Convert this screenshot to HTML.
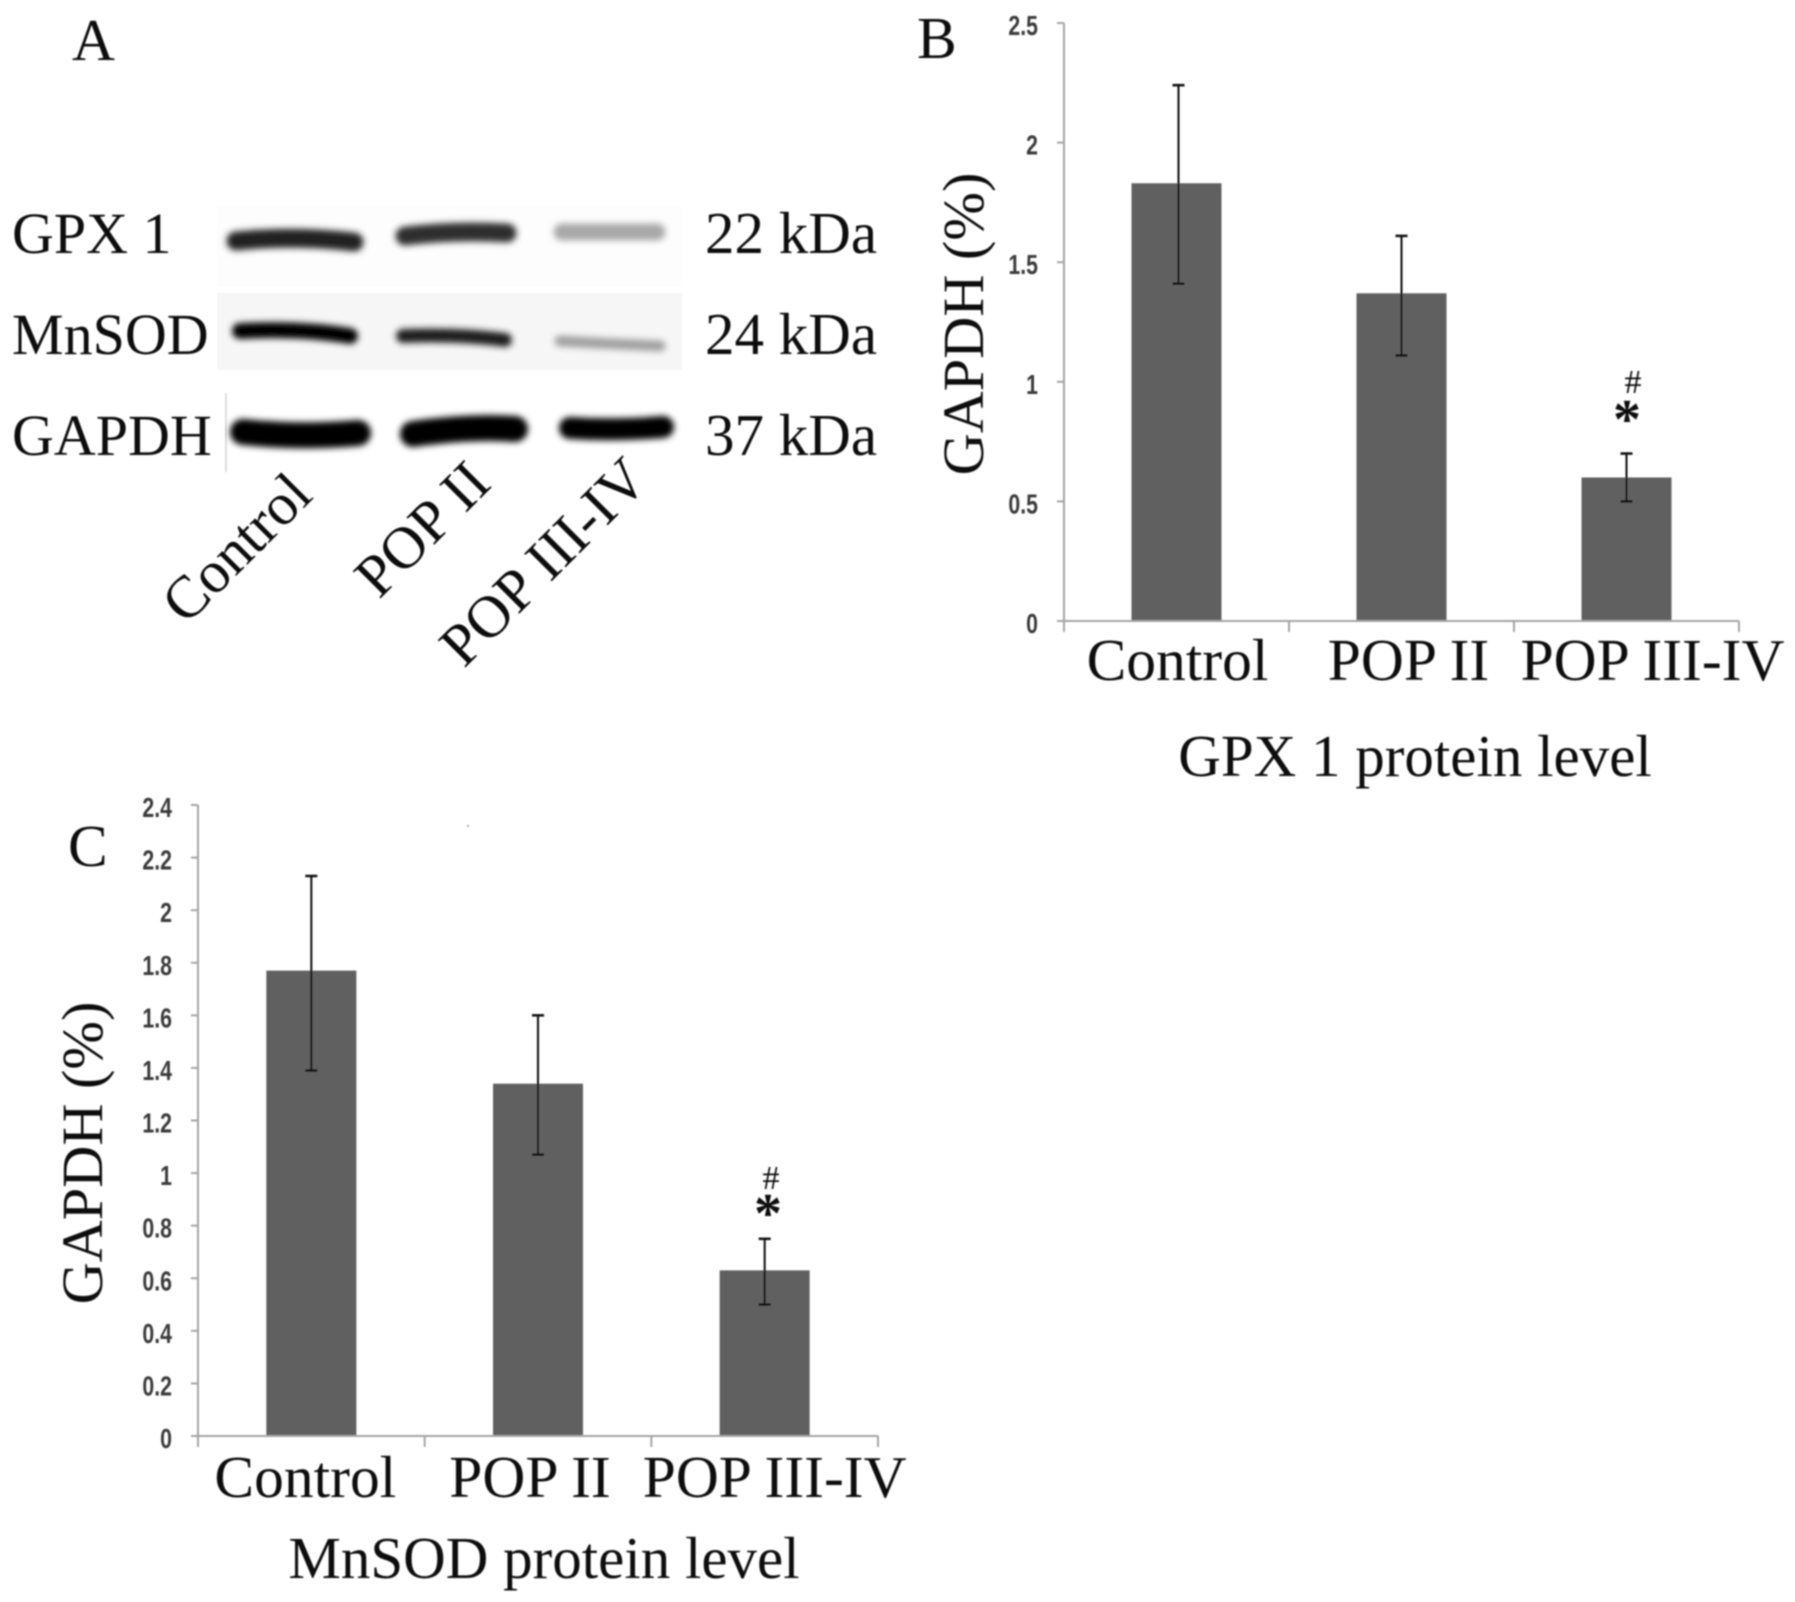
<!DOCTYPE html>
<html lang="en">
<head>
<meta charset="utf-8">
<title>GPX 1 and MnSOD protein levels</title>
<style>
html,body{margin:0;padding:0;background:#fff;}
svg{display:block;}
text{font-family:"Liberation Serif",serif;fill:#111;}
.big{font-size:59.5px;}
.row{font-size:58px;}
.title{font-size:59px;}
.ytitle{font-size:58.3px;}
.tick{font-family:"Liberation Sans",sans-serif;font-size:28px;font-weight:bold;fill:#3a3a3a;}
</style>
</head>
<body>
<svg id="figure" xmlns="http://www.w3.org/2000/svg" width="1795" height="1602" viewBox="0 0 1795 1602">
  <defs>
    <filter id="soft" x="-5%" y="-5%" width="110%" height="110%"><feGaussianBlur stdDeviation="0.7"/></filter>
    <filter id="bandblur" x="-20%" y="-100%" width="140%" height="300%"><feGaussianBlur stdDeviation="3.2"/></filter>
  </defs>
  <g filter="url(#soft)">
    <text class="big" x="72" y="60">A</text>
    <text class="big" x="917" y="58">B</text>
    <text class="big" x="68" y="866">C</text>
    <circle cx="468" cy="826" r="1" fill="#999"/>

    <g>
      <rect x="217" y="205" width="465" height="82" fill="#fdfdfd"/>
      <rect x="217" y="293" width="465" height="77" fill="#f6f6f6"/>
      <rect x="225" y="393" width="2" height="79" fill="#dedede"/>
      <g filter="url(#bandblur)" fill="none" stroke-linecap="round">
        <path d="M236 241 Q295 235 354 242" stroke="#222" stroke-width="19"/>
        <path d="M405 236 Q455 230 507 233" stroke="#2f2f2f" stroke-width="19"/>
        <path d="M562 232 L657 232" stroke="#a8a8a8" stroke-width="17"/>
        <path d="M240 331 Q300 328 350 336" stroke="#000" stroke-width="16"/>
        <path d="M403 336 Q460 334 505 340" stroke="#1c1c1c" stroke-width="14"/>
        <path d="M560 341 Q610 344 660 346" stroke="#a0a0a0" stroke-width="11"/>
        <path d="M243 432 Q300 438 358 433" stroke="#000" stroke-width="26"/>
        <path d="M413 434 Q470 426 515 429" stroke="#000" stroke-width="26"/>
        <path d="M570 428 Q615 431 663 427" stroke="#000" stroke-width="22"/>
      </g>
      <text class="row" x="12" y="253">GPX 1</text>
      <text class="row" x="12" y="354">MnSOD</text>
      <text class="row" x="12" y="455">GAPDH</text>
      <text class="title" x="705" y="253">22 kDa</text>
      <text class="title" x="705" y="354">24 kDa</text>
      <text class="title" x="705" y="455">37 kDa</text>
      <text class="big" transform="translate(186 626) rotate(-45)">Control</text>
      <text class="big" transform="translate(379 600) rotate(-45)">POP II</text>
      <text class="big" transform="translate(464 669) rotate(-45)">POP III-IV</text>
    </g>

    <g id="chart-b"></g>
    <g id="chart-c"></g>

    <text class="title" text-anchor="middle" x="1415" y="776">GPX 1 protein level</text>
    <text class="ytitle" text-anchor="middle" transform="translate(983 324) rotate(-90)">GAPDH (%)</text>
    <text class="title" text-anchor="middle" x="544" y="1578">MnSOD protein level</text>
    <text class="ytitle" text-anchor="middle" transform="translate(102 1153) rotate(-90)">GAPDH (%)</text>

    <text x="1633" y="393" text-anchor="middle" font-size="34" fill="#333">#</text>
    <text x="1627" y="438" text-anchor="middle" font-size="56" font-weight="bold">*</text>
    <text x="771" y="1189" text-anchor="middle" font-size="34" fill="#333">#</text>
    <text x="768" y="1232" text-anchor="middle" font-size="56" font-weight="bold">*</text>
  </g>
</svg>
<script>
const bCategories = ['Control', 'POP II', 'POP III-IV'];
const bValues = [1.83, 1.37, 0.6];
const bErrorHigh = [2.24, 1.61, 0.7];
const bErrorLow = [1.41, 1.11, 0.5];
const bTickLabels = ['0', '0.5', '1', '1.5', '2', '2.5'];

const cCategories = ['Control', 'POP II', 'POP III-IV'];
const cValues = [1.77, 1.34, 0.63];
const cErrorHigh = [2.13, 1.6, 0.75];
const cErrorLow = [1.39, 1.07, 0.5];
const cTickLabels = ['0', '0.2', '0.4', '0.6', '0.8', '1', '1.2', '1.4', '1.6', '1.8', '2', '2.2', '2.4'];

const SVG_NS = 'http://www.w3.org/2000/svg';

function make(parent, tag, props) {
  const el = document.createElementNS(SVG_NS, tag);
  Object.keys(props).forEach(function (k) { el.setAttribute(k, props[k]); });
  parent.appendChild(el);
  return el;
}

function drawChart(cfg) {
  const root = document.getElementById(cfg.id);
  const tickNums = cfg.ticks.map(Number);
  const yMax = Math.max.apply(null, tickNums);
  const yScale = function (v) { return cfg.bottom - (v / yMax) * (cfg.bottom - cfg.top); };
  const band = (cfg.right - cfg.left) / cfg.categories.length;
  const xCenter = function (i) { return cfg.left + band * (i + 0.5); };

  cfg.categories.forEach(function (cat, i) {
    const bar = make(root, 'rect', {
      x: xCenter(i) - cfg.barWidth / 2,
      y: yScale(cfg.values[i]),
      width: cfg.barWidth,
      height: cfg.bottom - yScale(cfg.values[i]),
      fill: '#606060'
    });
    
    
  });

  const yAxis = make(root, 'line', { x1: cfg.left, x2: cfg.left, y1: cfg.top, y2: cfg.bottom + 11, stroke: '#a4a4a4', 'stroke-width': 2 });
  
  
  const xAxis = make(root, 'line', { x1: cfg.left, x2: cfg.right, y1: cfg.bottom, y2: cfg.bottom, stroke: '#a4a4a4', 'stroke-width': 2 });
  
  

  cfg.ticks.forEach(function (label) {
    const y = yScale(Number(label));
    const mark = make(root, 'line', { x1: cfg.left - 7, x2: cfg.left, y1: y, y2: y, stroke: '#a4a4a4', 'stroke-width': 2 });
    
    
    const t = make(root, 'text', {
      class: 'tick',
      'text-anchor': 'end',
      transform: 'translate(' + (cfg.left - 26) + ' ' + (y + 12) + ') scale(0.76 1)'
    });
    t.textContent = label;
    
    
  });

  for (let i = 0; i <= cfg.categories.length; i++) {
    const x = cfg.left + band * i;
    const tick = make(root, 'line', { x1: x, x2: x, y1: cfg.bottom, y2: cfg.bottom + 11, stroke: '#a4a4a4', 'stroke-width': 2 });
    
    
  }

  cfg.categories.forEach(function (cat, i) {
    const cx = xCenter(i) + cfg.errOffset[i];
    const hi = yScale(cfg.errHigh[i]);
    const lo = yScale(cfg.errLow[i]);
    const stem = make(root, 'line', { x1: cx, x2: cx, y1: hi, y2: lo, stroke: '#111', 'stroke-width': 2 });
    
    
    [hi, lo].forEach(function (y) {
      const cap = make(root, 'line', { x1: cx - 6, x2: cx + 6, y1: y, y2: y, stroke: '#111', 'stroke-width': 2.5 });
      
      
    });
    const label = make(root, 'text', {
      class: 'big',
      'text-anchor': 'middle',
      x: xCenter(i) + cfg.labelOffset[i],
      y: cfg.labelBaseline
    });
    label.textContent = cat;
    
    
  });
}

drawChart({
  id: 'chart-b', left: 1064, right: 1739, top: 23, bottom: 621, barWidth: 90,
  categories: bCategories, values: bValues, errHigh: bErrorHigh, errLow: bErrorLow,
  ticks: bTickLabels, errOffset: [2, 0, 0], labelOffset: [1, 7, 26], labelBaseline: 680
});
drawChart({
  id: 'chart-c', left: 198, right: 878, top: 805, bottom: 1436, barWidth: 90,
  categories: cCategories, values: cValues, errHigh: cErrorHigh, errLow: cErrorLow,
  ticks: cTickLabels, errOffset: [0, 0, 0], labelOffset: [-6, -8, 10], labelBaseline: 1497
});
</script>
</body>
</html>
